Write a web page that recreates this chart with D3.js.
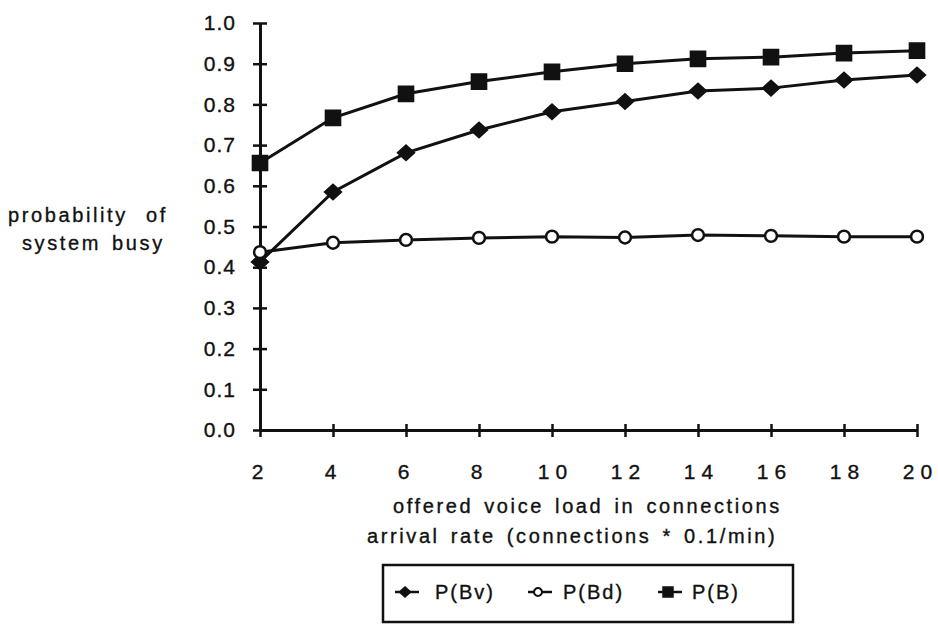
<html>
<head>
    <meta charset="utf-8">
    <script src="https://d3js.org/d3.v7.min.js"></script>
    <title>system busy</title>
    <style>
        body { margin: 0; background: #fff; }
        text { font-family: "Liberation Sans", Arial, sans-serif; fill: #111;
               stroke: #111; stroke-width: 0.35px; }
    </style>
</head>
<body>
    <svg id="chart"></svg>
    <script>
        // data
        const loads = [2, 4, 6, 8, 10, 12, 14, 16, 18, 20];
        const pBv = [0.413, 0.585, 0.681, 0.737, 0.782, 0.807, 0.833, 0.840, 0.860, 0.872];
        const pBd = [0.437, 0.460, 0.467, 0.472, 0.475, 0.473, 0.479, 0.477, 0.475, 0.475];
        const pB  = [0.656, 0.767, 0.826, 0.856, 0.880, 0.900, 0.912, 0.916, 0.926, 0.932];
        const yTicks = [0, 0.1, 0.2, 0.3, 0.4, 0.5, 0.6, 0.7, 0.8, 0.9, 1.0];
        const seriesNames = ["P(Bv)", "P(Bd)", "P(B)"];

        const width = 938, height = 626;
        let svg = d3.select("svg#chart")
                    .attr("width", width)
                    .attr("height", height);

        const x = d3.scaleLinear().domain([2, 20]).range([260, 917]);
        const y = d3.scaleLinear().domain([0, 1]).range([430, 23]);

        // axes
        const yAxis = d3.axisLeft(y).tickValues(yTicks)
                        .tickFormat(d3.format(".1f"))
                        .tickSizeInner(8).tickSizeOuter(0).tickPadding(16);
        const gy = svg.append("g").attr("transform", `translate(${x(2)},0)`).call(yAxis);
        gy.selectAll(".tick line").attr("x2", -7).attr("x1", 7);

        const xAxis = d3.axisBottom(x).tickValues(loads)
                        .tickSizeInner(7).tickSizeOuter(0).tickPadding(27);
        const gx = svg.append("g").attr("transform", `translate(0,${y(0)})`).call(xAxis);
        gx.selectAll(".tick line").attr("y1", -6).attr("y2", 7);

        [gx, gy].forEach(g => {
            g.select(".domain").attr("stroke", "#111").attr("stroke-width", 3);
            g.selectAll(".tick line").attr("stroke", "#111").attr("stroke-width", 2.5);
            g.selectAll(".tick text").attr("font-size", 21).style("letter-spacing", "1px")
             .attr("fill", "#111");
        });
        gx.selectAll(".tick text").style("letter-spacing", "6px")
          .attr("dx", d => d >= 10 ? 3 : 0);

        // series
        const diamond = {
            draw(ctx, size) {
                const r = Math.sqrt(size) / 2;
                ctx.moveTo(0, -r); ctx.lineTo(r * 1.1, 0);
                ctx.lineTo(0, r); ctx.lineTo(-r * 1.1, 0); ctx.closePath();
            }
        };
        const series = [
            {name: seriesNames[0], values: pBv, symbol: diamond, size: 200, fill: "#111"},
            {name: seriesNames[1], values: pBd, symbol: d3.symbolCircle, size: 110, fill: "#fff"},
            {name: seriesNames[2], values: pB,  symbol: d3.symbolSquare, size: 200, fill: "#111"}
        ];

        const line = d3.line().x((d, i) => x(loads[i])).y(d => y(d));

        series.forEach(s => {
            svg.append("path")
               .attr("d", line(s.values))
               .attr("fill", "none")
               .attr("stroke", "#111")
               .attr("stroke-width", 3);
        });
        series.forEach(s => {
            svg.selectAll(null).data(s.values)
               .join("path")
               .attr("transform", (d, i) => `translate(${x(loads[i])},${y(d)})`)
               .attr("d", d3.symbol().type(s.symbol).size(s.size))
               .attr("fill", s.fill)
               .attr("stroke", "#111")
               .attr("stroke-width", 2.5);
        });

        // axis titles
        const title = (tx, ty, str) => svg.append("text")
            .attr("x", tx).attr("y", ty)
            .attr("font-size", 20)
            .style("letter-spacing", "2.6px").style("word-spacing", "3px")
            .text(str);
        title(393, 513, "offered voice load in connections");
        title(367, 543, "arrival rate (connections * 0.1/min)");

        title(8, 222, "probability of").style("word-spacing", "10px");
        title(22, 250, "system busy");

        // legend
        svg.append("rect")
           .attr("x", 383).attr("y", 565).attr("width", 410).attr("height", 57)
           .attr("fill", "none").attr("stroke", "#111").attr("stroke-width", 2.5);

        const legendX = [405, 538, 668];
        const legendText = [435, 563, 692];
        series.forEach((s, i) => {
            svg.append("line")
               .attr("x1", legendX[i] - 10).attr("x2", legendX[i] + 14)
               .attr("y1", 592).attr("y2", 592)
               .attr("stroke", "#111").attr("stroke-width", 2.5);
            svg.append("path")
               .attr("transform", `translate(${legendX[i]},592)`)
               .attr("d", d3.symbol().type(s.symbol).size(s.size * 0.45))
               .attr("fill", s.fill).attr("stroke", "#111").attr("stroke-width", 2);
            svg.append("text")
               .attr("x", legendText[i]).attr("y", 599)
               .attr("font-size", 20).style("letter-spacing", "2px")
               .text(s.name);
        });
    </script>
</body>
</html>
